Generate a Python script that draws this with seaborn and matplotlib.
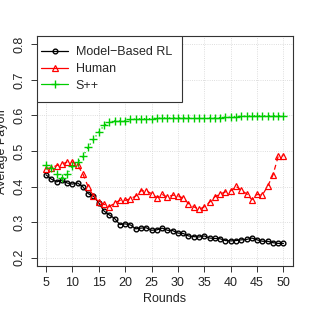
import seaborn as sns
import matplotlib.pyplot as plt
from matplotlib.patches import Rectangle
import pandas as pd

# Rounds 5..50
rounds = list(range(5, 51))

model_based_rl = [0.433, 0.421, 0.413, 0.418, 0.410, 0.407, 0.410, 0.399, 0.380, 0.373,
                  0.354, 0.331, 0.320, 0.310, 0.293, 0.295, 0.292, 0.281, 0.283, 0.284,
                  0.277, 0.278, 0.283, 0.277, 0.276, 0.269, 0.268, 0.261, 0.259, 0.258,
                  0.261, 0.255, 0.254, 0.253, 0.248, 0.247, 0.248, 0.250, 0.251, 0.255,
                  0.250, 0.246, 0.246, 0.242, 0.240, 0.240]

human = [0.450, 0.453, 0.459, 0.463, 0.469, 0.469, 0.460, 0.435, 0.399, 0.373,
         0.356, 0.350, 0.343, 0.354, 0.361, 0.361, 0.366, 0.373, 0.388, 0.388,
         0.380, 0.369, 0.378, 0.370, 0.376, 0.373, 0.368, 0.352, 0.343, 0.336,
         0.343, 0.356, 0.371, 0.379, 0.385, 0.388, 0.401, 0.389, 0.380, 0.363,
         0.378, 0.376, 0.401, 0.432, 0.485, 0.487]

s_plus_plus = [0.461, 0.452, 0.435, 0.424, 0.435, 0.457, 0.468, 0.485, 0.511, 0.533,
               0.553, 0.572, 0.581, 0.585, 0.585, 0.585, 0.589, 0.590, 0.591, 0.591,
               0.591, 0.592, 0.593, 0.593, 0.593, 0.593, 0.593, 0.593, 0.593, 0.593,
               0.593, 0.593, 0.593, 0.594, 0.595, 0.595, 0.597, 0.598, 0.598, 0.599,
               0.599, 0.599, 0.599, 0.599, 0.599, 0.599]

df = pd.DataFrame({'round': rounds, 'mbrl': model_based_rl, 'human': human, 'spp': s_plus_plus})

sns.set_style('ticks')
plt.rcParams['font.family'] = ['Liberation Sans', 'DejaVu Sans']

fig = plt.figure(figsize=(3.12, 3.12), dpi=100)
ax = fig.add_axes([0.117, 0.147, 0.822, 0.738])

# grid like R's grid()
for x in range(5, 51, 5):
    ax.axvline(x, color='lightgray', linestyle=':', linewidth=0.6, zorder=0)
for y in [0.2, 0.3, 0.4, 0.5, 0.6, 0.7, 0.8]:
    ax.axhline(y, color='lightgray', linestyle=':', linewidth=0.6, zorder=0)

sns.lineplot(data=df, x='round', y='mbrl', ax=ax, color='black', linewidth=0.9,
             marker='o', markersize=3.4, markerfacecolor='none', markeredgecolor='black',
             markeredgewidth=1.0, label='Model\u2212Based RL')
sns.lineplot(data=df, x='round', y='human', ax=ax, color='red', linewidth=0.9,
             marker='^', markersize=3.8, markerfacecolor='none', markeredgecolor='red',
             markeredgewidth=0.9, dashes=(4, 3), label='Human')
sns.lineplot(data=df, x='round', y='spp', ax=ax, color='#00CD00', linewidth=0.9,
             marker='+', markersize=5.5, markeredgecolor='#00CD00', markeredgewidth=1.0,
             dashes=(1, 3), label='S++')

ax.set_xlim(3.2, 51.8)
ax.set_ylim(0.176, 0.824)
ax.set_xticks(range(5, 51, 5))
ax.set_yticks([0.2, 0.3, 0.4, 0.5, 0.6, 0.7, 0.8])
ax.set_yticklabels(['0.2', '0.3', '0.4', '0.5', '0.6', '0.7', '0.8'], rotation=90, va='center')
ax.tick_params(axis='both', labelsize=9, length=4.5, width=0.7, direction='out', color='#333333',
               labelcolor='#222222')
ax.set_xlabel('Rounds', fontsize=9, color='#222222', labelpad=3)
ax.set_ylabel('Average Payoff', fontsize=9, color='#222222', labelpad=4)
for s in ax.spines.values():
    s.set_visible(True)
    s.set_linewidth(0.8)
    s.set_color('#333333')

# legend box like R's legend()
ax.add_patch(Rectangle((0, 0.713), 0.569, 0.287, transform=ax.transAxes, facecolor='white',
                       edgecolor='#333333', linewidth=0.8, zorder=4))
leg = ax.legend(loc='center left', bbox_to_anchor=(0.0, 0.856), borderaxespad=0, fontsize=9,
                frameon=False, handlelength=2.2, handletextpad=0.6, labelspacing=0.38,
                borderpad=0.35)
leg.set_zorder(5)
for line in leg.get_lines():
    line.set_linestyle('-')

fig.savefig('out.png', dpi=100)
